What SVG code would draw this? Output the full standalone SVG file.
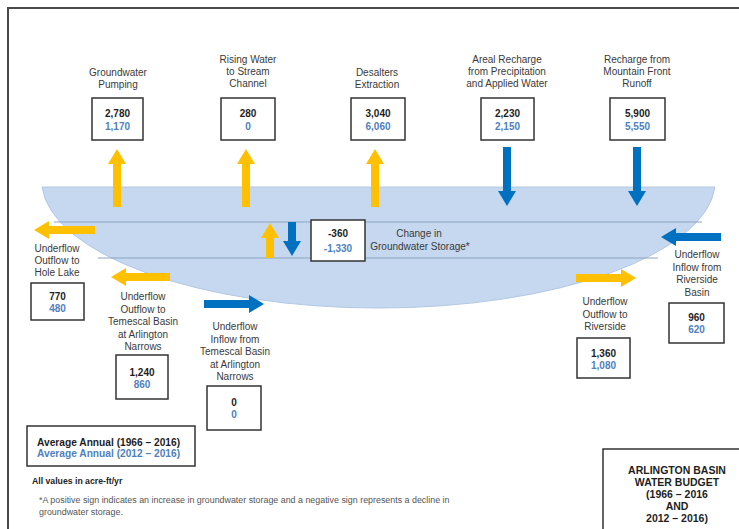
<svg xmlns="http://www.w3.org/2000/svg" width="739" height="529" viewBox="0 0 739 529">
<defs>
<style>
.lbl{font-family:"Liberation Sans",Arial,sans-serif;font-size:10px;fill:#3a3a3a;text-anchor:middle}
.v1{font-family:"Liberation Sans",Arial,sans-serif;font-size:10px;font-weight:bold;fill:#1e1e1e;text-anchor:middle}
.v2{font-family:"Liberation Sans",Arial,sans-serif;font-size:10px;font-weight:bold;fill:#4f81bd;text-anchor:middle}
.box{fill:#ffffff;stroke:#333333;stroke-width:1.5}
.ya{stroke:#ffc000;stroke-width:8;fill:none;marker-end:url(#hy)}
.ba{stroke:#0070c0;stroke-width:8;fill:none;marker-end:url(#hb)}
.ttl{font-family:"Liberation Sans",Arial,sans-serif;font-size:10.5px;font-weight:bold;fill:#1e1e1e;text-anchor:middle}
</style>
<marker id="hy" markerUnits="userSpaceOnUse" viewBox="0 -9 15 18" refX="1" refY="0" markerWidth="15" markerHeight="18" orient="auto"><path d="M0,-9 L15,0 L0,9 Z" fill="#ffc000"/></marker>
<marker id="hb" markerUnits="userSpaceOnUse" viewBox="0 -9 15 18" refX="1" refY="0" markerWidth="15" markerHeight="18" orient="auto"><path d="M0,-9 L15,0 L0,9 Z" fill="#0070c0"/></marker>
</defs>
<rect width="739" height="529" fill="#ffffff"/>
<path d="M8,529 L8,8 L739,8" fill="none" stroke="#4a4a4a" stroke-width="2"/>
<g id="basin">
<path d="M42,187 L715,187 A337,128 0 0 1 42,187 Z" fill="#c5d8ef" stroke="#b3c8e3" stroke-width="1"/>
<line x1="54" y1="222" x2="702" y2="222" stroke="#8ea3bf" stroke-width="1"/>
<line x1="98" y1="258" x2="658" y2="258" stroke="#8ea3bf" stroke-width="1"/>
</g>
<g id="connectors">
<line class="ya" x1="117" y1="207" x2="117" y2="163"/>
<line class="ya" x1="246" y1="207" x2="246" y2="163"/>
<line class="ya" x1="375" y1="207" x2="375" y2="163"/>
<line class="ba" x1="507" y1="147" x2="507" y2="192"/>
<line class="ba" x1="637" y1="147" x2="637" y2="192"/>
<line class="ya" x1="270" y1="258" x2="270" y2="237"/>
<line class="ba" x1="292" y1="222" x2="292" y2="242"/>
<line class="ya" x1="95" y1="230" x2="48" y2="230"/>
<line class="ya" x1="170" y1="277" x2="125" y2="277"/>
<line class="ba" x1="204" y1="304" x2="250" y2="304"/>
<line class="ya" x1="576" y1="278" x2="622" y2="278"/>
<line class="ba" x1="721" y1="237" x2="675" y2="237"/>
</g>
<g id="groundwater-pumping">
<text class="lbl" x="118" y="76">Groundwater</text>
<text class="lbl" x="118" y="88">Pumping</text>
<rect class="box" x="92" y="98" width="51" height="42"/>
<text class="v1" x="117.5" y="117">2,780</text>
<text class="v2" x="117.5" y="130">1,170</text>
</g>
<g id="rising-water">
<text class="lbl" x="248" y="63">Rising Water</text>
<text class="lbl" x="248" y="75">to Stream</text>
<text class="lbl" x="248" y="87">Channel</text>
<rect class="box" x="221" y="98" width="54" height="42"/>
<text class="v1" x="248" y="117">280</text>
<text class="v2" x="248" y="130">0</text>
</g>
<g id="desalters">
<text class="lbl" x="377" y="76">Desalters</text>
<text class="lbl" x="377" y="88">Extraction</text>
<rect class="box" x="351" y="98" width="54" height="42"/>
<text class="v1" x="378" y="117">3,040</text>
<text class="v2" x="378" y="130">6,060</text>
</g>
<g id="areal-recharge">
<text class="lbl" x="507" y="63">Areal Recharge</text>
<text class="lbl" x="507" y="75">from Precipitation</text>
<text class="lbl" x="507" y="87">and Applied Water</text>
<rect class="box" x="481" y="98" width="53" height="42"/>
<text class="v1" x="507.5" y="117">2,230</text>
<text class="v2" x="507.5" y="130">2,150</text>
</g>
<g id="mountain-front">
<text class="lbl" x="637" y="63">Recharge from</text>
<text class="lbl" x="637" y="75">Mountain Front</text>
<text class="lbl" x="637" y="87">Runoff</text>
<rect class="box" x="610" y="98" width="55" height="42"/>
<text class="v1" x="637.5" y="117">5,900</text>
<text class="v2" x="637.5" y="130">5,550</text>
</g>
<g id="storage-change">
<rect class="box" x="311" y="220" width="54" height="41"/>
<text class="v1" x="338" y="237">-360</text>
<text class="v2" x="338" y="252">-1,330</text>
<text class="lbl" x="419" y="237">Change in</text>
<text class="lbl" x="420" y="250">Groundwater Storage*</text>
</g>
<g id="hole-lake">
<text class="lbl" x="57" y="252">Underflow</text>
<text class="lbl" x="57" y="264">Outflow to</text>
<text class="lbl" x="57" y="276">Hole Lake</text>
<rect class="box" x="31" y="283" width="53" height="37"/>
<text class="v1" x="57.5" y="300">770</text>
<text class="v2" x="57.5" y="312">480</text>
</g>
<g id="temescal-outflow">
<text class="lbl" x="143" y="300">Underflow</text>
<text class="lbl" x="143" y="312.5">Outflow to</text>
<text class="lbl" x="143" y="325">Temescal Basin</text>
<text class="lbl" x="143" y="337.5">at Arlington</text>
<text class="lbl" x="143" y="350">Narrows</text>
<rect class="box" x="116" y="355" width="52" height="44"/>
<text class="v1" x="142" y="376">1,240</text>
<text class="v2" x="142" y="388">860</text>
</g>
<g id="temescal-inflow">
<text class="lbl" x="235" y="330">Underflow</text>
<text class="lbl" x="235" y="342.5">Inflow from</text>
<text class="lbl" x="235" y="355">Temescal Basin</text>
<text class="lbl" x="235" y="367.5">at Arlington</text>
<text class="lbl" x="235" y="380">Narrows</text>
<rect class="box" x="207" y="386" width="54" height="44"/>
<text class="v1" x="234" y="406">0</text>
<text class="v2" x="234" y="418">0</text>
</g>
<g id="riverside-outflow">
<text class="lbl" x="605" y="305">Underflow</text>
<text class="lbl" x="605" y="318">Outflow to</text>
<text class="lbl" x="605" y="330">Riverside</text>
<rect class="box" x="577" y="338" width="53" height="40"/>
<text class="v1" x="603.5" y="357">1,360</text>
<text class="v2" x="603.5" y="369">1,080</text>
</g>
<g id="riverside-inflow">
<text class="lbl" x="697" y="258">Underflow</text>
<text class="lbl" x="697" y="271">Inflow from</text>
<text class="lbl" x="697" y="283">Riverside</text>
<text class="lbl" x="697" y="296">Basin</text>
<rect class="box" x="669" y="303" width="55" height="40"/>
<text class="v1" x="696.5" y="321">960</text>
<text class="v2" x="696.5" y="333">620</text>
</g>
<g id="legend">
<rect class="box" x="27" y="426" width="168" height="40"/>
<text x="37" y="446" font-family="Liberation Sans, Arial, sans-serif" font-size="10.2" font-weight="bold" fill="#1e1e1e">Average Annual (1966 – 2016)</text>
<text x="37" y="457" font-family="Liberation Sans, Arial, sans-serif" font-size="10.2" font-weight="bold" fill="#4f81bd">Average Annual (2012 – 2016)</text>
<text x="32" y="484" font-family="Liberation Sans, Arial, sans-serif" font-size="8.7" font-weight="bold" fill="#222">All values in acre-ft/yr</text>
<text x="39" y="503" font-family="Liberation Sans, Arial, sans-serif" font-size="8.9" fill="#555">*A positive sign indicates an increase in groundwater storage and a negative sign represents a decline in</text>
<text x="39" y="515" font-family="Liberation Sans, Arial, sans-serif" font-size="8.9" fill="#555">groundwater storage.</text>
</g>
<g id="title">
<rect x="603" y="449" width="150" height="100" fill="#ffffff" stroke="#333333" stroke-width="1.5"/>
<text class="ttl" x="677" y="474">ARLINGTON BASIN</text>
<text class="ttl" x="677" y="486">WATER BUDGET</text>
<text class="ttl" x="677" y="498">(1966 – 2016</text>
<text class="ttl" x="677" y="510">AND</text>
<text class="ttl" x="677" y="522">2012 – 2016)</text>
</g>
</svg>
